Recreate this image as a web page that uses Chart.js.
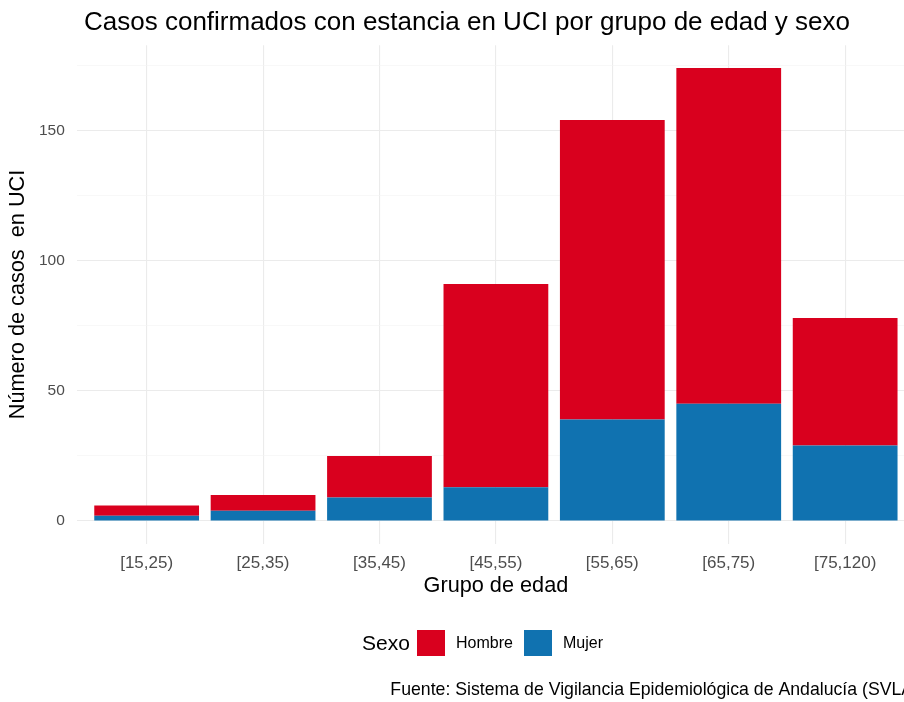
<!DOCTYPE html>
<html>
<head>
<meta charset="utf-8">
<script src="https://cdn.jsdelivr.net/npm/chart.js@4.4.1/dist/chart.umd.min.js"></script>
<style>
  html, body { margin: 0; padding: 0; background: #fff; overflow: hidden; }
  #wrap { width: 904px; height: 702px; overflow: hidden; position: relative; }
  canvas { display: block; }
</style>
</head>
<body>
<div id="wrap"><canvas id="c" width="920" height="702"></canvas></div>
<script>
// ---- data ----
const categories = ['[15,25)', '[25,35)', '[35,45)', '[45,55)', '[55,65)', '[65,75)', '[75,120)'];
const mujer  = [2, 4, 9, 13, 39, 45, 29];
const hombre = [4, 6, 16, 78, 115, 129, 49];
const yTicks = [0, 50, 100, 150];
const yMinorTicks = [25, 75, 125, 175];
const seriesNames = ['Mujer', 'Hombre'];
const titleText = 'Casos confirmados con estancia en UCI por grupo de edad y sexo';
const xTitle = 'Grupo de edad';
const yTitle = 'Número de casos  en UCI';
const legendTitle = 'Sexo';
const captionText = 'Fuente: Sistema de Vigilancia Epidemiológica de Andalucía (SVLA)';

// ---- styles ----
const FONT = '"Liberation Sans", Arial, Helvetica, sans-serif';
const RED = '#d9001e';
const BLUE = '#1072b0';

const totals = mujer.map((v, i) => v + hombre[i]);
const maxTotal = Math.max(...totals);
const pad = 0.05 * maxTotal;

const chartData = {
  datasets: [
    { label: seriesNames[0], data: mujer.map((v, i) => ({ x: i + 1, y: v })), backgroundColor: BLUE },
    { label: seriesNames[1], data: hombre.map((v, i) => ({ x: i + 1, y: v })), backgroundColor: RED }
  ]
};

const decorPlugin = {
  id: 'decor',
  afterDraw(chart) {
    const ctx = chart.ctx;
    ctx.save();
    // title
    ctx.fillStyle = '#000';
    ctx.font = '26px ' + FONT;
    ctx.textBaseline = 'middle';
    ctx.textAlign = 'center';
    ctx.fillText(titleText, 467, 23);
    // legend
    ctx.textAlign = 'left';
    ctx.font = '21px ' + FONT;
    ctx.fillText(legendTitle, 362, 644);
    const ds = chart.data.datasets;
    const order = [1, 0];
    const boxX = [417, 524];
    const labX = [456, 563];
    ctx.font = '16px ' + FONT;
    order.forEach((di, k) => {
      ctx.fillStyle = ds[di].backgroundColor;
      ctx.fillRect(boxX[k], 630, 28, 26);
      ctx.fillStyle = '#000';
      ctx.fillText(ds[di].label, labX[k], 644);
    });
    // caption
    ctx.font = '17.7px ' + FONT;
    ctx.textAlign = 'right';
    ctx.fillText(captionText, 919, 690);
    ctx.restore();
  }
};

new Chart(document.getElementById('c'), {
  type: 'bar',
  data: chartData,
  plugins: [decorPlugin],
  options: {
    responsive: false,
    animation: false,
    devicePixelRatio: 1,
    layout: { padding: { top: 45.3, left: 0, right: 5, bottom: 103.3 } },
    plugins: { legend: { display: false }, tooltip: { enabled: false }, title: { display: false } },
    datasets: { bar: { categoryPercentage: 0.9, barPercentage: 1, borderWidth: 0 } },
    scales: {
      x: {
        type: 'linear',
        stacked: true,
        offset: false,
        min: 0.4,
        max: categories.length + 0.6,
        afterBuildTicks: (s) => { s.ticks = categories.map((c, i) => ({ value: i + 1 })); },
        afterFit: (s) => { s.height = 55; },
        border: { display: false },
        grid: { color: '#ebebeb', lineWidth: 1.1, drawTicks: false, offset: false },
        ticks: {
          autoSkip: false, maxRotation: 0, padding: 9,
          color: '#4d4d4d', font: { family: FONT, size: 17 },
          callback: (v) => categories[v - 1]
        },
        title: { display: true, text: xTitle, color: '#000', font: { family: FONT, size: 21.7 }, padding: 0 }
      },
      y: {
        type: 'linear',
        stacked: true,
        min: -pad,
        max: maxTotal + pad,
        afterBuildTicks: (s) => {
          s.ticks = yTicks.concat(yMinorTicks).sort((a, b) => a - b).map(v => ({ value: v }));
        },
        afterFit: (s) => { s.width = 76.8; },
        border: { display: false },
        grid: {
          drawTicks: false,
          color: (c) => (yTicks.includes(c.tick.value) ? '#ebebeb' : '#f3f3f3'),
          lineWidth: (c) => (yTicks.includes(c.tick.value) ? 1.1 : 0.6)
        },
        ticks: {
          padding: 12, color: '#4d4d4d', font: { family: FONT, size: 15.5 },
          callback: (v) => (yTicks.includes(v) ? String(v) : '')
        },
        title: { display: true, text: yTitle, color: '#000', font: { family: FONT, size: 21.7 }, padding: { top: 5, bottom: 0 } }
      }
    }
  }
});
</script>
</body>
</html>
